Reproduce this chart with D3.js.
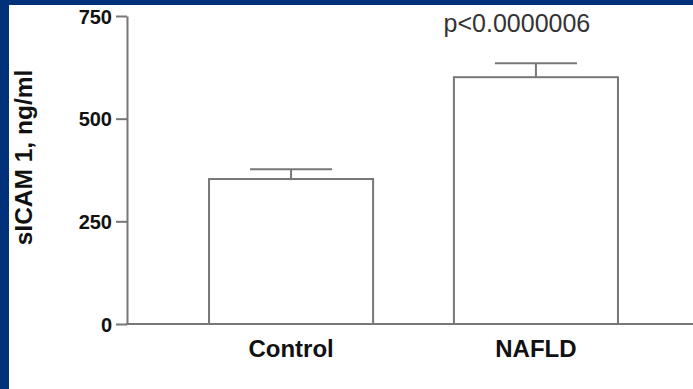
<!DOCTYPE html>
<html>
<head>
<meta charset="utf-8">
<script src="https://cdn.jsdelivr.net/npm/d3@7/dist/d3.min.js"></script>
<style>
  html, body { margin: 0; padding: 0; background: #ffffff; }
  svg { display: block; }
  text { font-family: "Liberation Sans", Arial, Helvetica, sans-serif; }
</style>
</head>
<body>
<svg id="chart" width="693" height="389"></svg>
<script>
// sICAM-1 serum levels by group (mean and standard error, ng/ml)
const categories = ["Control", "NAFLD"];
const means = [353, 601];
const errors = [24, 34];
const yTicks = [0, 250, 500, 750];
const yTitle = "sICAM 1, ng/ml";
const pLabel = "p<0.0000006";

const W = 693, H = 389;
const svg = d3.select("#chart");

// dark blue frame along the left and top edges
const frame = "#00317a";
svg.append("rect").attr("x", 0).attr("y", 0).attr("width", W).attr("height", H).attr("fill", "#ffffff");
svg.append("rect").attr("x", 0).attr("y", 0).attr("width", 9).attr("height", H).attr("fill", frame);
svg.append("rect").attr("x", 0).attr("y", 0).attr("width", W).attr("height", 5).attr("fill", frame);

const axisX0 = 127, baseY = 324, topY = 16;
const lineColor = "#777777";

const y = d3.scaleLinear().domain([0, 750]).range([baseY, topY]);
const x = d3.scaleBand().domain(categories).range([axisX0, 700])
  .paddingInner(0.33).paddingOuter(0.335);

// bars
const g = svg.append("g");
g.selectAll("rect.bar").data(categories).join("rect")
  .attr("class", "bar")
  .attr("x", d => x(d))
  .attr("y", (d, i) => y(means[i]))
  .attr("width", x.bandwidth())
  .attr("height", (d, i) => baseY - y(means[i]))
  .attr("fill", "#ffffff")
  .attr("stroke", lineColor)
  .attr("stroke-width", 2);

// upper error bars with caps
const capHalf = x.bandwidth() / 4;
categories.forEach((c, i) => {
  const cx = x(c) + x.bandwidth() / 2;
  g.append("line")
    .attr("x1", cx).attr("x2", cx)
    .attr("y1", y(means[i])).attr("y2", y(means[i] + errors[i]))
    .attr("stroke", lineColor).attr("stroke-width", 2);
  g.append("line")
    .attr("x1", cx - capHalf).attr("x2", cx + capHalf)
    .attr("y1", y(means[i] + errors[i])).attr("y2", y(means[i] + errors[i]))
    .attr("stroke", lineColor).attr("stroke-width", 2);
});

// y axis
const yAxis = svg.append("g")
  .attr("transform", `translate(${axisX0},0)`)
  .call(d3.axisLeft(y).tickValues(yTicks).tickSize(11).tickSizeOuter(0).tickPadding(4));
yAxis.attr("font-size", 20).attr("font-weight", "bold")
  .attr("font-family", "'Liberation Sans', Arial, Helvetica, sans-serif");
yAxis.select(".domain").attr("stroke", lineColor).attr("stroke-width", 2);
yAxis.selectAll(".tick line").attr("stroke", lineColor).attr("stroke-width", 2);
yAxis.selectAll(".tick text")
  .attr("fill", "#111111")
  .attr("dy", "0.36em")
  .style("font-size", "20px")
  .style("font-weight", "bold");

// x axis baseline running to the right edge
svg.append("line")
  .attr("x1", axisX0 - 1).attr("x2", W)
  .attr("y1", baseY).attr("y2", baseY)
  .attr("stroke", lineColor).attr("stroke-width", 2);

// category labels
svg.selectAll("text.cat").data(categories).join("text")
  .attr("class", "cat")
  .attr("x", d => x(d) + x.bandwidth() / 2)
  .attr("y", 357)
  .attr("text-anchor", "middle")
  .attr("fill", "#111111")
  .style("font-size", "24px")
  .style("font-weight", "bold")
  .text(d => d);

// y axis title
svg.append("text")
  .attr("transform", `translate(32,${(68 + 247) / 2}) rotate(-90)`)
  .attr("text-anchor", "middle")
  .attr("fill", "#111111")
  .style("font-size", "24.5px")
  .style("font-weight", "bold")
  .text(yTitle);

// significance annotation above the NAFLD bar
svg.append("text")
  .attr("x", x("NAFLD") + x.bandwidth() / 2 - 19)
  .attr("y", 32)
  .attr("text-anchor", "middle")
  .attr("fill", "#333333")
  .style("font-size", "25px")
  .text(pLabel);
</script>
</body>
</html>
